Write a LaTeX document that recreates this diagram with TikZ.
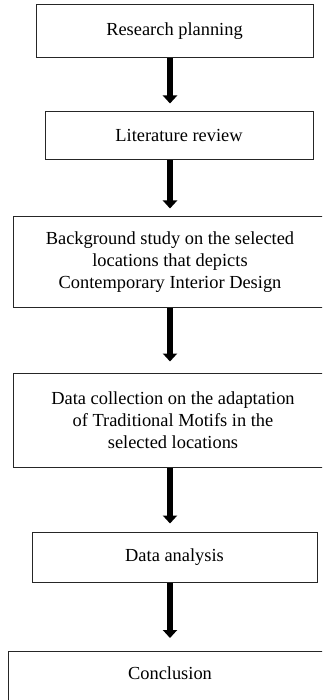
\documentclass[tikz,border=0pt]{standalone}
\usepackage{fontspec}
\setmainfont{Liberation Serif}
\usetikzlibrary{arrows.meta}

\begin{document}
\begin{tikzpicture}[x=1pt,y=-1pt,
  stage/.style={draw=black!85,line width=1pt,inner sep=0pt,align=center,
    font=\fontsize{18.4}{22}\selectfont},
  flow/.style={line width=6.5pt,-{Triangle[width=14pt,length=8pt]}}]
\clip (0,0) rectangle (322,700);
\node[stage,minimum width=277pt,minimum height=53pt] (plan) at (174.5,31.5) {Research planning};
\node[stage,minimum width=268pt,minimum height=48pt] (lit) at (179,136) {Literature review};
\node[stage,minimum width=314pt,minimum height=90pt] (bg) at (170,262)
  {Background study on the selected\\locations that depicts\\Contemporary Interior Design};
\node[stage,minimum width=320pt,minimum height=94pt] (data) at (173,420)
  {Data collection on the adaptation\\of Traditional Motifs in the\\selected locations};
\node[stage,minimum width=285pt,minimum height=50pt] (anal) at (174.5,557) {Data analysis};
\node[stage,minimum width=324pt,anchor=north,text height=28pt,text depth=30pt] (concl) at (170,651) {Conclusion};
\foreach \a/\b/\g in {plan/lit/8,lit/bg/8,bg/data/11,data/anal/8,anal/concl/13}{
  \draw[flow,shorten >=\g pt] (\a.south -| bg) -- (\b.north -| bg);}
\end{tikzpicture}
\end{document}
